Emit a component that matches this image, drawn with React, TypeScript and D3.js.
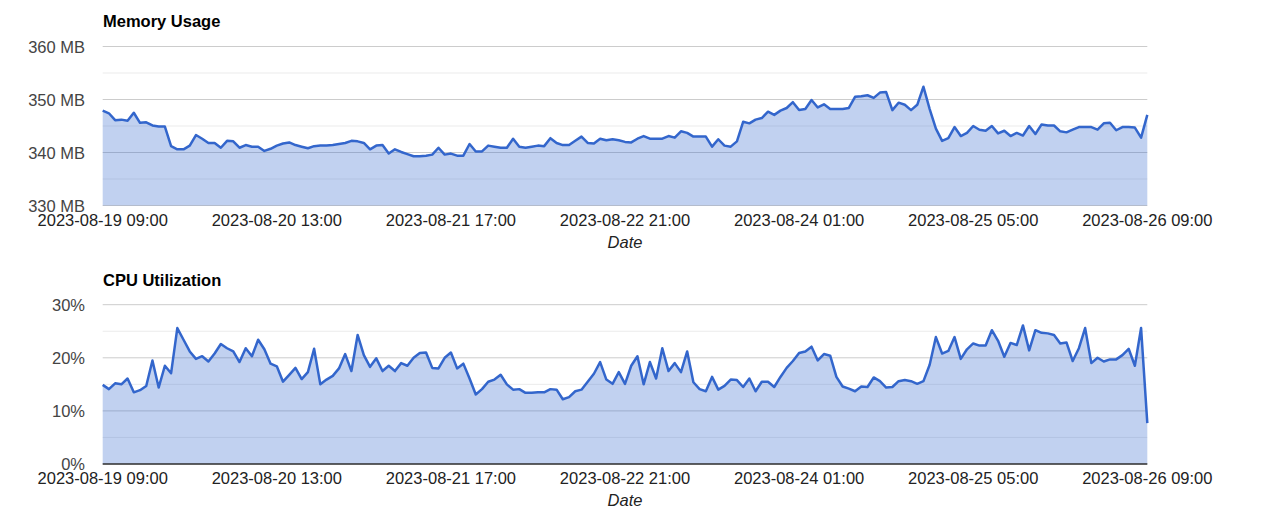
import * as d3 from "d3";
import { useRef, useEffect } from "react";

// hourly samples starting 2023-08-19 09:00
const startTime = "2023-08-19 09:00";

const tickLabels = [
  "2023-08-19 09:00",
  "2023-08-20 13:00",
  "2023-08-21 17:00",
  "2023-08-22 21:00",
  "2023-08-24 01:00",
  "2023-08-25 05:00",
  "2023-08-26 09:00",
];

const memoryValues = [
  347.9, 347.4, 346.1, 346.2, 346.0, 347.5, 345.6, 345.7, 345.1, 344.9,
  344.9, 341.2, 340.6, 340.6, 341.3, 343.3, 342.6, 341.8, 341.8, 340.9,
  342.2, 342.1, 340.9, 341.4, 341.1, 341.1, 340.3, 340.7, 341.3, 341.7,
  341.9, 341.4, 341.1, 340.8, 341.2, 341.3, 341.3, 341.4, 341.6, 341.8,
  342.2, 342.1, 341.8, 340.6, 341.3, 341.4, 339.8, 340.6, 340.1, 339.7,
  339.3, 339.3, 339.4, 339.6, 340.9, 339.6, 339.8, 339.4, 339.4, 341.6,
  340.2, 340.2, 341.3, 341.1, 340.9, 340.9, 342.6, 341.1, 340.9, 341.1,
  341.3, 341.2, 342.7, 341.8, 341.4, 341.4, 342.2, 343.0, 341.8, 341.7,
  342.6, 342.3, 342.5, 342.3, 342.0, 341.9, 342.6, 343.1, 342.6, 342.6,
  342.6, 343.1, 342.8, 344.0, 343.7, 343.0, 343.0, 343.0, 341.1, 342.5,
  341.3, 341.1, 342.1, 345.8, 345.5, 346.2, 346.5, 347.7, 347.1, 347.9,
  348.4, 349.5, 348.0, 348.2, 349.9, 348.5, 349.1, 348.2, 348.2, 348.2,
  348.4, 350.5, 350.6, 350.8, 350.3, 351.3, 351.4, 348.0, 349.4, 349.0,
  348.0, 349.0, 352.4, 348.2, 344.5, 342.2, 342.7, 344.8, 343.1, 343.7,
  345.0, 344.3, 344.1, 345.0, 343.6, 344.1, 343.1, 343.7, 343.2, 345.0,
  343.5, 345.3, 345.1, 345.1, 344.0, 343.8, 344.3, 344.8, 344.8, 344.8,
  344.3, 345.5, 345.6, 344.2, 344.8, 344.8, 344.7, 342.8, 347.1,
];

const cpuValues = [
  14.9, 14.1, 15.2, 15.0, 16.1, 13.5, 13.9, 14.7, 19.5, 14.4,
  18.5, 17.1, 25.6, 23.4, 21.2, 19.8, 20.3, 19.3, 20.8, 22.6,
  21.8, 21.2, 19.2, 21.8, 20.3, 23.4, 21.6, 18.9, 18.4, 15.5,
  16.8, 18.1, 16.0, 17.3, 21.7, 15.0, 15.9, 16.6, 18.0, 20.7,
  17.5, 24.3, 20.5, 18.3, 19.9, 17.5, 18.5, 17.5, 19.0, 18.5,
  20.0, 20.9, 21.0, 18.1, 18.0, 20.0, 21.0, 18.0, 18.9, 16.1,
  13.1, 14.1, 15.5, 15.9, 16.8, 15.0, 14.0, 14.1, 13.4, 13.4,
  13.5, 13.5, 14.1, 14.0, 12.2, 12.6, 13.7, 14.0, 15.5, 17.0,
  19.2, 15.9, 15.1, 17.3, 15.1, 18.5, 20.3, 15.0, 19.2, 16.1,
  21.8, 17.5, 19.0, 17.3, 21.2, 15.4, 14.1, 13.7, 16.4, 14.0,
  14.7, 15.9, 15.8, 14.5, 16.1, 13.7, 15.5, 15.5, 14.5, 16.4,
  18.1, 19.4, 20.9, 21.2, 22.1, 19.5, 20.7, 20.4, 16.4, 14.6,
  14.2, 13.7, 14.6, 14.5, 16.3, 15.6, 14.4, 14.5, 15.6, 15.8,
  15.6, 15.1, 15.6, 18.7, 23.9, 20.8, 21.3, 23.9, 19.8, 21.6,
  22.7, 22.3, 22.3, 25.2, 23.2, 20.2, 22.8, 22.4, 26.1, 21.4,
  25.2, 24.7, 24.6, 24.3, 22.7, 22.9, 19.4, 21.8, 25.6, 19.0,
  20.0, 19.3, 19.7, 19.7, 20.5, 21.7, 18.5, 25.6, 7.7,
];

const memoryTicks = [330, 340, 350, 360];
const memoryMinor = [335, 345, 355];
const cpuTicks = [0, 10, 20, 30];
const cpuMinor = [5, 15, 25];

const FONT = "Arial, 'Liberation Sans', sans-serif";

export default function App() {
  const svgRef = useRef(null);

  useEffect(() => {
    const width = 1280;
    const height = 528;
    const parse = d3.timeParse("%Y-%m-%d %H:%M");
    const fmt = d3.timeFormat("%Y-%m-%d %H:%M");
    const t0 = parse(startTime) as Date;

    const svg = d3
      .select(svgRef.current)
      .attr("width", width)
      .attr("height", height);
    svg.selectAll("*").remove();

    const x = d3
      .scaleTime()
      .domain([t0, d3.timeHour.offset(t0, memoryValues.length - 1)])
      .range([102.7, 1147.3]);
    const tickDates = tickLabels.map((s) => parse(s) as Date);

    function panel(opts: {
      title: string;
      titleY: number;
      top: number;
      bottom: number;
      values: number[];
      domain: [number, number];
      ticks: number[];
      minor: number[];
      label: (v: number) => string;
      darkBase: boolean;
    }) {
      const y = d3.scaleLinear().domain(opts.domain).range([opts.bottom, opts.top]);
      const g = svg.append("g");
      const pts = opts.values.map((v, i) => ({ t: d3.timeHour.offset(t0, i), v }));

      g.append("text")
        .attr("x", 103)
        .attr("y", opts.titleY)
        .attr("font-family", FONT)
        .attr("font-size", 16.5)
        .attr("font-weight", "bold")
        .attr("fill", "#000")
        .text(opts.title);

      g.selectAll(".minor")
        .data(opts.minor)
        .enter()
        .append("line")
        .attr("x1", x.range()[0])
        .attr("x2", x.range()[1])
        .attr("y1", (d) => y(d))
        .attr("y2", (d) => y(d))
        .attr("stroke", "#ebebeb")
        .attr("stroke-width", 1);

      g.selectAll(".major")
        .data(opts.ticks)
        .enter()
        .append("line")
        .attr("x1", x.range()[0])
        .attr("x2", x.range()[1])
        .attr("y1", (d) => y(d))
        .attr("y2", (d) => y(d))
        .attr("stroke", "#cccccc")
        .attr("stroke-width", 1);

      const area = d3
        .area<any>()
        .x((d) => x(d.t))
        .y0(opts.bottom)
        .y1((d) => y(d.v));
      const line = d3
        .line<any>()
        .x((d) => x(d.t))
        .y((d) => y(d.v));

      g.append("path")
        .attr("d", area(pts))
        .attr("fill", "#3366cc")
        .attr("fill-opacity", 0.3);

      if (opts.darkBase) {
        g.append("line")
          .attr("x1", x.range()[0])
          .attr("x2", x.range()[1])
          .attr("y1", opts.bottom)
          .attr("y2", opts.bottom)
          .attr("stroke", "#333")
          .attr("stroke-width", 1.5);
      }

      g.append("path")
        .attr("d", line(pts))
        .attr("fill", "none")
        .attr("stroke", "#3366cc")
        .attr("stroke-width", 2.5)
        .attr("stroke-linejoin", "round");

      g.selectAll(".ylab")
        .data(opts.ticks)
        .enter()
        .append("text")
        .attr("x", 85)
        .attr("y", (d) => y(d) + 6)
        .attr("text-anchor", "end")
        .attr("font-family", FONT)
        .attr("font-size", 16.5)
        .attr("fill", "#444")
        .text((d) => opts.label(d));

      g.selectAll(".xlab")
        .data(tickDates)
        .enter()
        .append("text")
        .attr("x", (d) => x(d))
        .attr("y", opts.bottom + 20)
        .attr("text-anchor", "middle")
        .attr("font-family", FONT)
        .attr("font-size", 16.5)
        .attr("fill", "#222")
        .text((d) => fmt(d));

      g.append("text")
        .attr("x", (x.range()[0] + x.range()[1]) / 2)
        .attr("y", opts.bottom + 42)
        .attr("text-anchor", "middle")
        .attr("font-family", FONT)
        .attr("font-size", 16.5)
        .attr("font-style", "italic")
        .attr("fill", "#222")
        .text("Date");
    }

    panel({
      title: "Memory Usage",
      titleY: 27,
      top: 46.5,
      bottom: 205.5,
      values: memoryValues,
      domain: [330, 360],
      ticks: memoryTicks,
      minor: memoryMinor,
      label: (v) => `${v} MB`,
      darkBase: false,
    });

    panel({
      title: "CPU Utilization",
      titleY: 286,
      top: 304.7,
      bottom: 464,
      values: cpuValues,
      domain: [0, 30],
      ticks: cpuTicks,
      minor: cpuMinor,
      label: (v) => `${v}%`,
      darkBase: true,
    });
  }, []);

  return (
    <svg
      ref={svgRef}
      style={{ position: "absolute", left: 0, top: 0, background: "#fff" }}
    />
  );
}
